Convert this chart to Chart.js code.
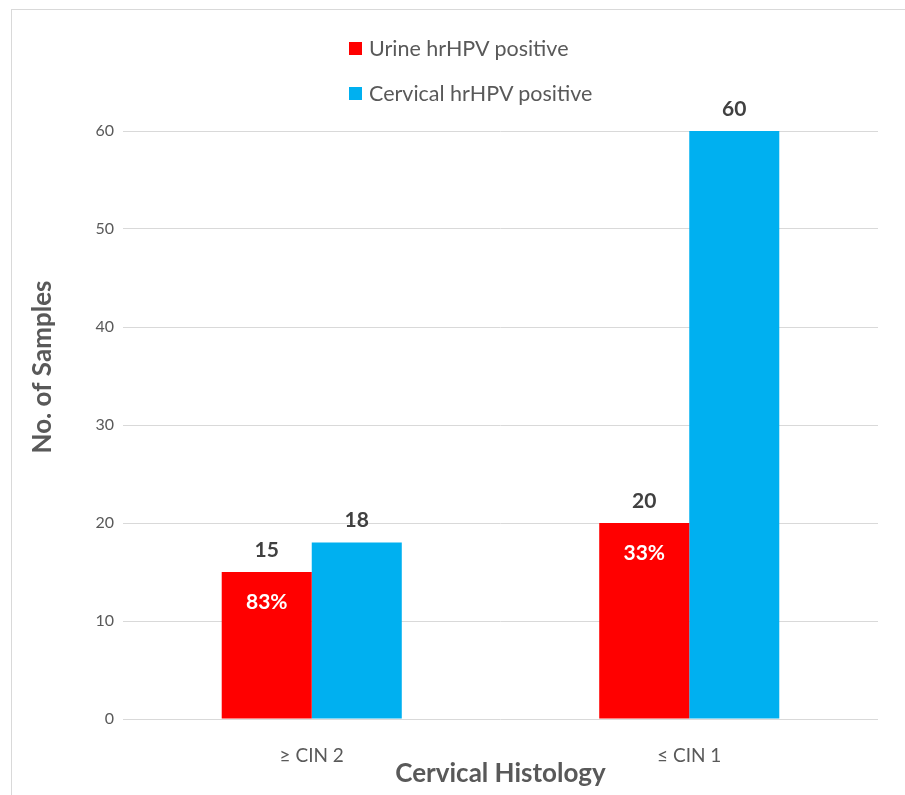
<!DOCTYPE html>
<html lang="en">
<head>
    <meta charset="UTF-8">
    <title>Cervical Histology - hrHPV positive</title>
    <script src="https://cdn.jsdelivr.net/npm/chart.js@4.4.1/dist/chart.umd.min.js"></script>
    <style>
        body {
            margin: 0;
            background: #fff;
            font-family: Lato, "Open Sans", sans-serif;
        }

        .wrap {
            position: relative;
            width: 905px;
            height: 795px;
            overflow: hidden;
        }

        /* only the top and left edges of the chart frame are in view */
        .frame {
            position: absolute;
            left: 11px;
            top: 9px;
            width: 1000px;
            height: 1000px;
            border: 1px solid #d9d9d9;
            pointer-events: none;
        }

        #chart {
            position: absolute;
            left: 0;
            top: 0;
        }

        .legend {
            position: absolute;
            left: 349px;
            top: 33px;
            color: #595959;
            font-size: 21.5px;
        }

        .legend div {
            display: flex;
            align-items: center;
            height: 30px;
            margin-bottom: 15px;
        }

        .legend span.box {
            display: inline-block;
            width: 13px;
            height: 13px;
            margin-right: 7px;
        }
    </style>
</head>
<body>
    <div class="wrap">
        <canvas id="chart" width="905" height="795"></canvas>
        <div class="legend" id="legend"></div>
        <div class="frame"></div>
    </div>

    <script>
        const categories = ['\u2265 CIN 2', '\u2264 CIN 1'];
        const urinePositive = [15, 20];
        const cervicalPositive = [18, 60];
        const urinePct = ['83%', '33%'];
        const yTicks = [0, 10, 20, 30, 40, 50, 60];
        const yTitle = 'No. of Samples';
        const xTitle = 'Cervical Histology';

        // value labels above bars, percentage inside the red bars, y title
        const barLabels = {
            id: 'barLabels',
            afterDatasetsDraw(chart) {
                const ctx = chart.ctx;
                ctx.save();
                ctx.textAlign = 'center';
                ctx.textBaseline = 'middle';
                chart.data.datasets.forEach((ds, i) => {
                    chart.getDatasetMeta(i).data.forEach((bar, j) => {
                        ctx.font = 'bold 21px Lato, "Open Sans", sans-serif';
                        ctx.fillStyle = '#404040';
                        ctx.fillText(ds.data[j], bar.x, bar.y - 22);
                        if (i === 0) {
                            ctx.fillStyle = '#ffffff';
                            ctx.fillText(urinePct[j], bar.x, bar.y + 30);
                        }
                    });
                });
                // excel puts the y title a bit above the plot middle
                ctx.translate(43, 367);
                ctx.rotate(-Math.PI / 2);
                ctx.font = 'bold 26px Lato, "Open Sans", sans-serif';
                ctx.fillStyle = '#595959';
                ctx.fillText(yTitle, 0, 0);
                ctx.restore();
            }
        };

        const chart = new Chart(document.getElementById('chart'), {
            type: 'bar',
            data: {
                labels: categories,
                datasets: [{
                    label: 'Urine hrHPV positive',
                    data: urinePositive,
                    backgroundColor: '#ff0000'
                }, {
                    label: 'Cervical hrHPV positive',
                    data: cervicalPositive,
                    backgroundColor: '#00b0f0'
                }]
            },
            options: {
                responsive: false,
                animation: false,
                categoryPercentage: 0.477,
                barPercentage: 1.0,
                layout: {
                    padding: { left: 0, right: 27, top: 131, bottom: 0 }
                },
                plugins: {
                    legend: { display: false },
                    tooltip: { enabled: false }
                },
                scales: {
                    x: {
                        grid: { display: false },
                        border: { display: false },
                        ticks: {
                            color: '#595959',
                            font: { size: 19, family: 'Lato' },
                            padding: 17
                        },
                        title: {
                            display: true,
                            text: xTitle,
                            color: '#595959',
                            font: { size: 26, weight: 'bold', family: 'Lato' },
                            padding: { top: 0, bottom: 6 }
                        },
                        afterFit(scale) { scale.height = 76; }
                    },
                    y: {
                        min: 0,
                        max: 60,
                        afterBuildTicks(scale) {
                            scale.ticks = yTicks.map(v => ({ value: v }));
                        },
                        grid: {
                            color: '#d9d9d9',
                            lineWidth: 1,
                            drawTicks: false
                        },
                        border: { display: false },
                        ticks: {
                            color: '#595959',
                            font: { size: 16, family: 'Lato' },
                            padding: 9
                        },
                        title: { display: false },
                        afterFit(scale) { scale.width = 123; }
                    }
                }
            },
            plugins: [barLabels]
        });

        // html legend from the datasets
        const legend = document.getElementById('legend');
        chart.data.datasets.forEach(ds => {
            const row = document.createElement('div');
            const box = document.createElement('span');
            box.className = 'box';
            box.style.background = ds.backgroundColor;
            row.appendChild(box);
            row.appendChild(document.createTextNode(ds.label));
            legend.appendChild(row);
        });
    </script>
</body>
</html>
